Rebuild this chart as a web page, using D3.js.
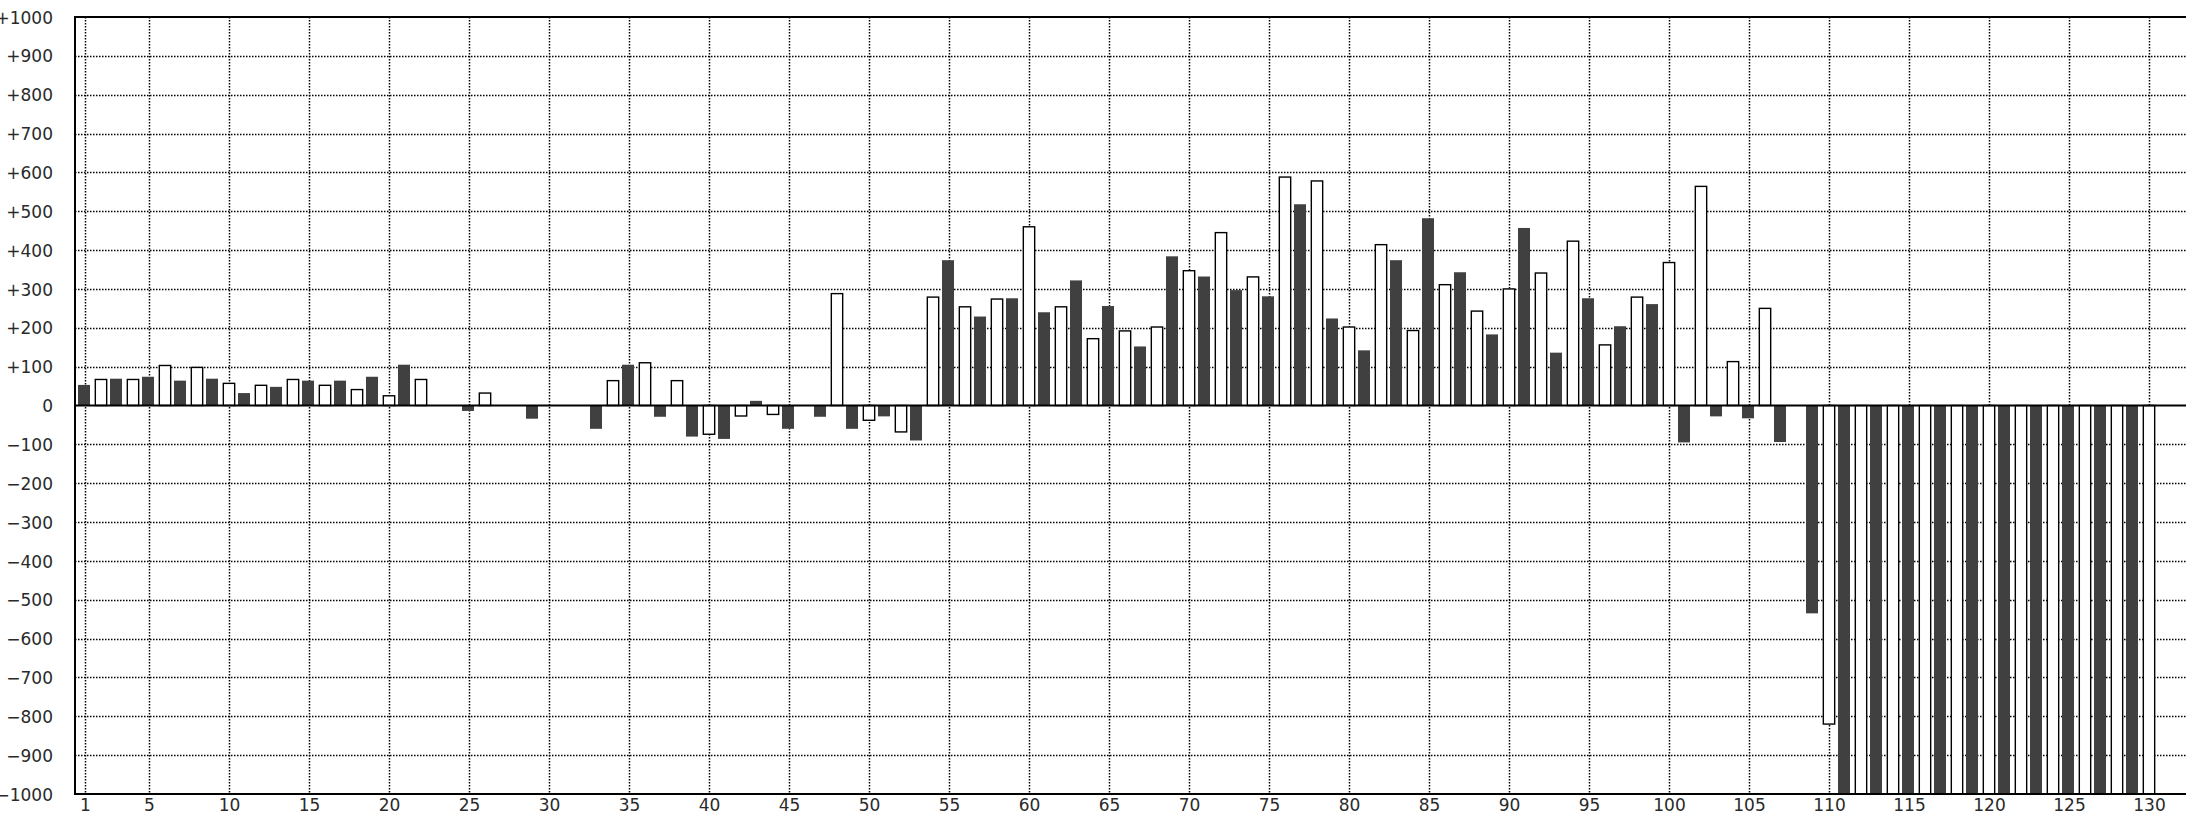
<!DOCTYPE html>
<html>
<head>
<meta charset="utf-8">
<script src="https://cdn.jsdelivr.net/npm/d3@7/dist/d3.min.js"></script>
<style>
  html, body { margin: 0; padding: 0; background: #fff; overflow: hidden; }
  svg { display: block; }
  text { font-family: "DejaVu Sans", Verdana, sans-serif; }
</style>
</head>
<body>
<svg id="chart" width="2186" height="816"></svg>
<script>
// ---- data ----
const categories = d3.range(1, 131); // 1 .. 130
const values = [
  53, 67, 69, 67, 74, 103, 64, 98, 69, 57,          // 1-10
  32, 52, 48, 67, 64, 52, 64, 41, 74, 25,           // 11-20
  105, 67, null, null, -14, 32, null, null, -34, null, // 21-30
  null, null, -60, 64, 105, 110, -29, 64, -80, -74, // 31-40
  -86, -27, 12, -23, -60, null, -29, 288, -60, -38, // 41-50
  -28, -68, -90, 279, 374, 254, 229, 274, 276, 460, // 51-60
  240, 254, 322, 172, 256, 192, 152, 202, 384, 347, // 61-70
  332, 445, 297, 331, 281, 588, 518, 578, 224, 202, // 71-80
  142, 414, 374, 193, 482, 311, 343, 243, 183, 300, // 81-90
  457, 341, 136, 423, 276, 156, 204, 279, 261, 368, // 91-100
  -95, 564, -28, 113, -33, 250, -94, null, -535, -820, // 101-110
  -1000, -1000, -1000, -1000, -1000, -1000, -1000, -1000, -1000, -1000, // 111-120
  -1000, -1000, -1000, -1000, -1000, -1000, -1000, -1000, -1000, -1000  // 121-130
];
const xTickValues = [1, 5, 10, 15, 20, 25, 30, 35, 40, 45, 50, 55, 60, 65, 70, 75, 80, 85, 90, 95, 100, 105, 110, 115, 120, 125, 130];
const yTickValues = [1000, 900, 800, 700, 600, 500, 400, 300, 200, 100, 0, -100, -200, -300, -400, -500, -600, -700, -800, -900, -1000];

// ---- layout ----
const W = 2186, H = 816;
const plotLeft = 75, plotRight = 2200, plotTop = 17, plotBottom = 794;

const x = d3.scaleLinear().domain([1, 130]).range([85, 2149]);
const y = d3.scaleLinear().domain([-1000, 1000]).range([plotBottom, plotTop]);
const step = x(2) - x(1);

const svg = d3.select("#chart");

svg.append("defs").append("clipPath").attr("id", "plotClip")
  .append("rect")
  .attr("x", plotLeft).attr("y", plotTop)
  .attr("width", plotRight - plotLeft).attr("height", plotBottom - plotTop);

// ---- gridlines ----
const grid = svg.append("g").attr("class", "grid")
  .attr("stroke", "#000").attr("stroke-width", 1.5)
  .attr("stroke-dasharray", "1.5,1.5");

grid.selectAll("line.h")
  .data(yTickValues.filter(v => v !== 0 && Math.abs(v) !== 1000))
  .join("line").attr("class", "h")
  .attr("x1", plotLeft).attr("x2", plotRight)
  .attr("y1", d => Math.round(y(d)) + 0.5).attr("y2", d => Math.round(y(d)) + 0.5);

grid.selectAll("line.v")
  .data(xTickValues)
  .join("line").attr("class", "v")
  .attr("x1", d => Math.round(x(d)) + 0.5).attr("x2", d => Math.round(x(d)) + 0.5)
  .attr("y1", plotTop).attr("y2", plotBottom);

// ---- bars ----
const data = categories.map((c, i) => ({ c, v: values[i] })).filter(d => d.v !== null && d.v !== 0);
const bars = svg.append("g").attr("clip-path", "url(#plotClip)");

const darkW = step * 0.75;      // 12px
const lightW = step * 0.71;     // ~11.4px (plus stroke)

bars.selectAll("rect.dark")
  .data(data.filter(d => d.c % 2 === 1))
  .join("rect").attr("class", "dark")
  .attr("x", d => x(d.c) - darkW / 2 - 1)
  .attr("width", darkW)
  .attr("y", d => Math.min(y(d.v), y(0)))
  .attr("height", d => Math.abs(y(d.v) - y(0)))
  .attr("fill", "#404040");

bars.selectAll("rect.light")
  .data(data.filter(d => d.c % 2 === 0))
  .join("rect").attr("class", "light")
  .attr("x", d => x(d.c) - lightW / 2)
  .attr("width", lightW)
  .attr("y", d => Math.min(y(d.v), y(0)))
  .attr("height", d => Math.abs(y(d.v) - y(0)))
  .attr("fill", "#fff")
  .attr("stroke", "#000")
  .attr("stroke-width", 1.4);

// ---- zero line ----
svg.append("line")
  .attr("x1", plotLeft).attr("x2", plotRight)
  .attr("y1", y(0)).attr("y2", y(0))
  .attr("stroke", "#000").attr("stroke-width", 2);

// ---- frame ----
svg.append("path")
  .attr("d", `M${plotRight},${plotTop}H${plotLeft}V${plotBottom}H${plotRight}`)
  .attr("fill", "none").attr("stroke", "#000").attr("stroke-width", 2);

// ---- axes labels ----
const fmtY = v => v > 0 ? "+" + v : (v < 0 ? "\u2212" + (-v) : "0");

const yAxis = d3.axisLeft(y).tickValues(yTickValues).tickFormat(fmtY).tickSize(0).tickPadding(0);
const gy = svg.append("g").attr("transform", "translate(53,0)").call(yAxis);
gy.select(".domain").remove();
gy.selectAll("text")
  .attr("font-size", 17)
  .attr("font-family", "DejaVu Sans, Verdana, sans-serif")
  .attr("fill", "#2a2a2a")
  .attr("dy", "0.36em");

const xAxis = d3.axisBottom(x).tickValues(xTickValues).tickFormat(d3.format("d")).tickSize(0).tickPadding(0);
const gx = svg.append("g").attr("transform", `translate(0,${plotBottom + 4})`).call(xAxis);
gx.select(".domain").remove();
gx.selectAll("text")
  .attr("font-size", 17)
  .attr("font-family", "DejaVu Sans, Verdana, sans-serif")
  .attr("fill", "#2a2a2a")
  .attr("dy", "0.76em");
</script>
</body>
</html>
